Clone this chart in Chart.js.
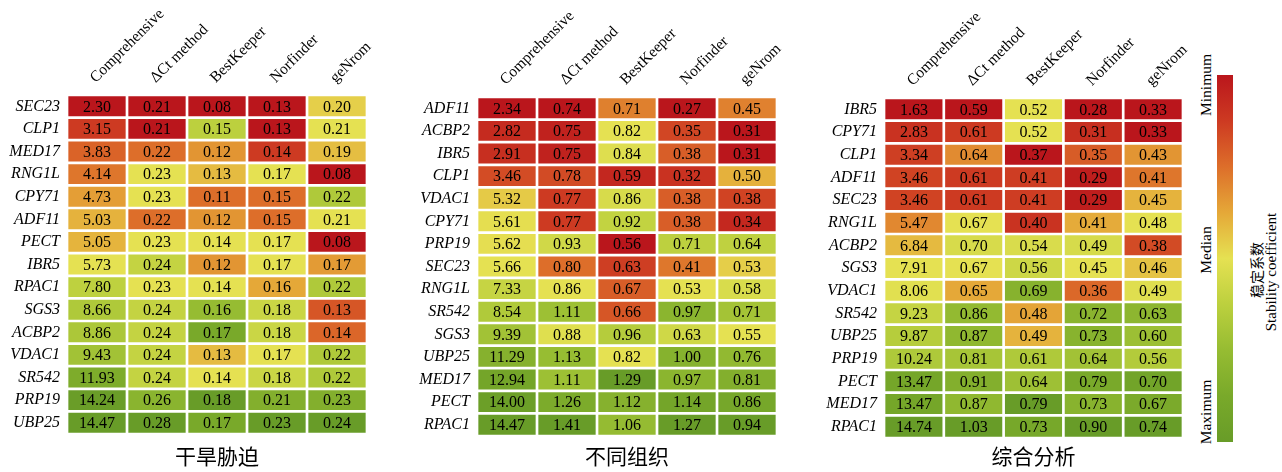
<!DOCTYPE html>
<html>
<head>
<meta charset="utf-8">
<script src="https://cdn.jsdelivr.net/npm/chart.js@4.4.0/dist/chart.umd.min.js"></script>
<style>
  body { margin: 0; background: #fff; width: 1282px; height: 472px; position: relative; overflow: hidden; }
  canvas { position: absolute; top: 0; }
  .side { position: absolute; white-space: nowrap; color: #000; font-family: "Liberation Serif", "Times New Roman", serif; transform: translate(-50%, -50%) rotate(-90deg); }
</style>
</head>
<body>
<canvas id="panel1" width="380" height="472" style="left:0px"></canvas>
<canvas id="panel2" width="390" height="472" style="left:400px"></canvas>
<canvas id="panel3" width="395" height="472" style="left:800px"></canvas>

<div id="colorBar" style="position:absolute; left:1217px; top:75px; width:16px; height:367px;"></div>
<div class="side" style="left:1206px; top:85px; font-size:15.5px;">Minimum</div>
<div class="side" style="left:1206px; top:250px; font-size:15.5px;">Median</div>
<div class="side" style="left:1206px; top:412px; font-size:15.5px;">Maximum</div>
<div class="side" style="left:1256px; top:270px; font-size:14px; font-family:'Noto Sans CJK SC';">稳定系数</div>
<div class="side" style="left:1271px; top:272px; font-size:15px;">Stability coefficient</div>

<script>
// === Column headers (same for all three panels) ===
const methods = ["Comprehensive", "ΔCt method", "BestKeeper", "Norfinder", "geNrom"];

// === 干旱胁迫 ===
const droughtGenes = ["SEC23", "CLP1", "MED17", "RNG1L", "CPY71", "ADF11", "PECT", "IBR5", "RPAC1", "SGS3", "ACBP2", "VDAC1", "SR542", "PRP19", "UBP25"];
const droughtComprehensive = [2.30, 3.15, 3.83, 4.14, 4.73, 5.03, 5.05, 5.73, 7.80, 8.66, 8.86, 9.43, 11.93, 14.24, 14.47];
const droughtDeltaCt = [0.21, 0.21, 0.22, 0.23, 0.23, 0.22, 0.23, 0.24, 0.23, 0.24, 0.24, 0.24, 0.24, 0.26, 0.28];
const droughtBestKeeper = [0.08, 0.15, 0.12, 0.13, 0.11, 0.12, 0.14, 0.12, 0.14, 0.16, 0.17, 0.13, 0.14, 0.18, 0.17];
const droughtNormFinder = [0.13, 0.13, 0.14, 0.17, 0.15, 0.15, 0.17, 0.17, 0.16, 0.18, 0.18, 0.17, 0.18, 0.21, 0.23];
const droughtGeNorm = [0.20, 0.21, 0.19, 0.08, 0.22, 0.21, 0.08, 0.17, 0.22, 0.13, 0.14, 0.22, 0.22, 0.23, 0.24];

// === 不同组织 ===
const tissueGenes = ["ADF11", "ACBP2", "IBR5", "CLP1", "VDAC1", "CPY71", "PRP19", "SEC23", "RNG1L", "SR542", "SGS3", "UBP25", "MED17", "PECT", "RPAC1"];
const tissueComprehensive = [2.34, 2.82, 2.91, 3.46, 5.32, 5.61, 5.62, 5.66, 7.33, 8.54, 9.39, 11.29, 12.94, 14.00, 14.47];
const tissueDeltaCt = [0.74, 0.75, 0.75, 0.78, 0.77, 0.77, 0.93, 0.80, 0.86, 1.11, 0.88, 1.13, 1.11, 1.26, 1.41];
const tissueBestKeeper = [0.71, 0.82, 0.84, 0.59, 0.86, 0.92, 0.56, 0.63, 0.67, 0.66, 0.96, 0.82, 1.29, 1.12, 1.06];
const tissueNormFinder = [0.27, 0.35, 0.38, 0.32, 0.38, 0.38, 0.71, 0.41, 0.53, 0.97, 0.63, 1.00, 0.97, 1.14, 1.27];
const tissueGeNorm = [0.45, 0.31, 0.31, 0.50, 0.38, 0.34, 0.64, 0.53, 0.58, 0.71, 0.55, 0.76, 0.81, 0.86, 0.94];

// === 综合分析 ===
const overallGenes = ["IBR5", "CPY71", "CLP1", "ADF11", "SEC23", "RNG1L", "ACBP2", "SGS3", "VDAC1", "SR542", "UBP25", "PRP19", "PECT", "MED17", "RPAC1"];
const overallComprehensive = [1.63, 2.83, 3.34, 3.46, 3.46, 5.47, 6.84, 7.91, 8.06, 9.23, 9.87, 10.24, 13.47, 13.47, 14.74];
const overallDeltaCt = [0.59, 0.61, 0.64, 0.61, 0.61, 0.67, 0.70, 0.67, 0.65, 0.86, 0.87, 0.81, 0.91, 0.87, 1.03];
const overallBestKeeper = [0.52, 0.52, 0.37, 0.41, 0.41, 0.40, 0.54, 0.56, 0.69, 0.48, 0.49, 0.61, 0.64, 0.79, 0.73];
const overallNormFinder = [0.28, 0.31, 0.35, 0.29, 0.29, 0.41, 0.49, 0.45, 0.36, 0.72, 0.73, 0.64, 0.79, 0.73, 0.90];
const overallGeNorm = [0.33, 0.33, 0.43, 0.41, 0.45, 0.48, 0.38, 0.46, 0.49, 0.63, 0.60, 0.56, 0.70, 0.67, 0.74];

// === Red -> yellow -> green scale (0 = min, 1 = median, 2 = max) ===
const colorStops = [
  [0.00, [186, 22, 28]],
  [0.25, [205, 58, 34]],
  [0.50, [221, 110, 42]],
  [0.75, [229, 168, 56]],
  [1.00, [229, 225, 82]],
  [1.25, [188, 208, 62]],
  [1.50, [150, 188, 50]],
  [1.75, [121, 169, 42]],
  [2.00, [104, 156, 40]],
];

function stopColor(t) {
  for (let i = 1; i < colorStops.length; i++) {
    const [t1, c1] = colorStops[i];
    const [t0, c0] = colorStops[i - 1];
    if (t <= t1) {
      const f = (t - t0) / (t1 - t0);
      const c = c0.map((v, k) => Math.round(v + (c1[k] - v) * f));
      return `rgb(${c[0]}, ${c[1]}, ${c[2]})`;
    }
  }
  const last = colorStops[colorStops.length - 1][1];
  return `rgb(${last.join(", ")})`;
}

// === Map a value to its colour using min / median / max of its column ===
function cellColor(value, column) {
  const sorted = [...column].sort((a, b) => a - b);
  const min = sorted[0];
  const max = sorted[sorted.length - 1];
  const med = sorted[Math.floor(sorted.length / 2)];
  let t;
  if (value <= med) t = med === min ? 1 : (value - min) / (med - min);
  else t = 1 + (value - med) / (max - med);
  return stopColor(Math.max(0, Math.min(2, t)));
}

// === Colour bar on the right ===
document.getElementById("colorBar").style.background =
  "linear-gradient(to bottom, " +
  colorStops.map(([t]) => `${stopColor(t)} ${(t / 2) * 100}%`).join(", ") + ")";

const panels = [
  {
    id: "panel1", title: "干旱胁迫", genes: droughtGenes,
    columns: [droughtComprehensive, droughtDeltaCt, droughtBestKeeper, droughtNormFinder, droughtGeNorm],
    left: 67, right: 13, top: 95, bottom: 38,
  },
  {
    id: "panel2", title: "不同组织", genes: tissueGenes,
    columns: [tissueComprehensive, tissueDeltaCt, tissueBestKeeper, tissueNormFinder, tissueGeNorm],
    left: 77, right: 13, top: 97, bottom: 36,
  },
  {
    id: "panel3", title: "综合分析", genes: overallGenes,
    columns: [overallComprehensive, overallDeltaCt, overallBestKeeper, overallNormFinder, overallGeNorm],
    left: 84, right: 12, top: 98, bottom: 34,
  },
];

// === Build one heatmap panel as floating bars ===
function drawPanel(p) {
  const cellText = {
    id: "cellText",
    afterDatasetsDraw(chart) {
      const ctx = chart.ctx;
      ctx.save();
      ctx.font = "16px 'Liberation Serif'";
      ctx.fillStyle = "#000";
      ctx.textAlign = "center";
      ctx.textBaseline = "middle";
      chart.data.datasets.forEach((ds, r) => {
        chart.getDatasetMeta(r).data.forEach((bar, c) => {
          ctx.fillText(p.columns[c][r].toFixed(2), bar.x, (bar.y + bar.base) / 2 + 1);
        });
      });
      ctx.restore();
    },
  };

  new Chart(document.getElementById(p.id), {
    type: "bar",
    data: {
      labels: methods,
      datasets: p.genes.map((g, r) => ({
        label: g,
        data: methods.map(() => [r + 0.06, r + 0.94]),
        backgroundColor: p.columns.map((col) => cellColor(col[r], col)),
        grouped: false,
        barPercentage: 1,
        categoryPercentage: 0.955,
        borderWidth: 0,
      })),
    },
    options: {
      responsive: false,
      animation: false,
      events: [],
      layout: { padding: { left: 0, right: p.right, top: 0, bottom: 0 } },
      plugins: { legend: { display: false }, tooltip: { enabled: false } },
      scales: {
        x: {
          position: "top",
          grid: { display: false, drawTicks: false },
          border: { display: false },
          ticks: {
            minRotation: 45, maxRotation: 45, padding: 8, labelOffset: 9, color: "#000",
            font: { family: "Liberation Serif", size: 15.5 },
          },
          afterFit: (s) => { s.height = p.top; s.paddingLeft = 0; s.paddingRight = 0; },
        },
        xTitle: {
          type: "category",
          position: "bottom",
          grid: { display: false, drawTicks: false },
          border: { display: false },
          ticks: { display: false },
          title: {
            display: true, text: p.title, color: "#000",
            font: { family: "Noto Sans CJK SC", size: 21 },
            padding: { top: 0, bottom: 3 },
          },
          afterFit: (s) => { s.height = p.bottom; s.paddingLeft = 0; s.paddingRight = 0; },
        },
        y: {
          type: "linear",
          min: 0,
          max: p.genes.length,
          reverse: true,
          grid: { display: false, drawTicks: false },
          border: { display: false },
          afterBuildTicks: (s) => { s.ticks = p.genes.map((g, i) => ({ value: i + 0.5 })); },
          ticks: {
            autoSkip: false, padding: 7, color: "#000",
            font: { family: "Liberation Serif", size: 16, style: "italic" },
            callback: (v, i) => p.genes[i],
          },
          afterFit: (s) => { s.width = p.left; s.paddingTop = 0; s.paddingBottom = 0; },
        },
      },
    },
    plugins: [cellText],
  });
}

panels.forEach(drawPanel);
</script>
</body>
</html>
